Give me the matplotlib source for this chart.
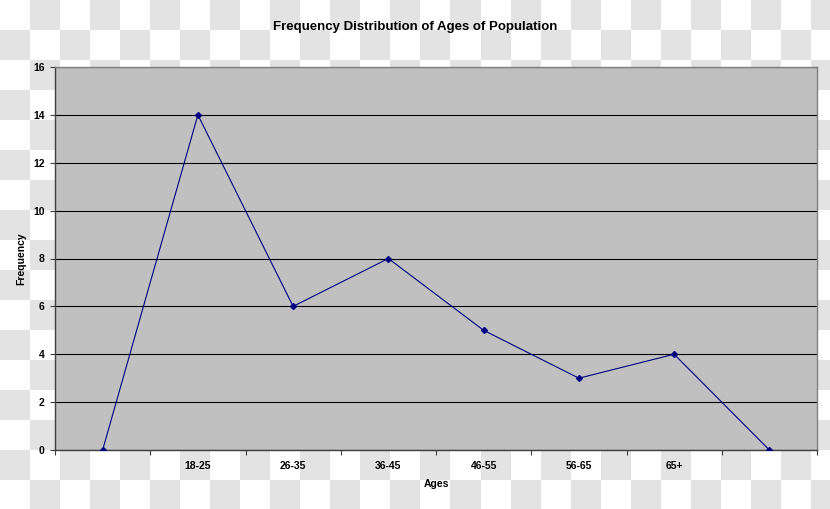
import numpy as np
import matplotlib
matplotlib.use("Agg")
import matplotlib.pyplot as plt

categories = ['', '18-25', '26-35', '36-45', '46-55', '56-65', '65+', '']
frequency = [0, 14, 6, 8, 5, 3, 4, 0]
y_ticks = [0, 2, 4, 6, 8, 10, 12, 14, 16]

W, H = 830, 509
fig = plt.figure(figsize=(W / 100, H / 100), dpi=100)

# checkerboard background
bg = fig.add_axes([0, 0, 1, 1])
sq = 30
nx, ny = int(np.ceil(W / sq)), int(np.ceil(H / sq))
pattern = (np.add.outer(np.arange(ny), np.arange(nx)) % 2).astype(float)
bg.imshow(pattern, cmap=matplotlib.colors.ListedColormap(['#ffffff', '#e3e3e3']),
          extent=[0, nx * sq, ny * sq, 0], interpolation='nearest', aspect='auto')
bg.set_xlim(0, W)
bg.set_ylim(H, 0)
bg.axis('off')

fam = ['Liberation Sans Narrow', 'Liberation Sans', 'DejaVu Sans']

left, right, top, bottom = 55, 817, 67, 450
ax = fig.add_axes([left / W, 1 - bottom / H, (right - left) / W, (bottom - top) / H])
ax.set_facecolor('#c0c0c0')

x = np.arange(1, len(categories) + 1)
ax.plot(x, frequency, color='#000080', lw=0.8, marker='D', ms=3, zorder=3)

ax.set_xlim(0.5, len(categories) + 0.5)
ax.set_ylim(0, 16)
ax.set_yticks(y_ticks)
ax.set_yticklabels([str(v) for v in y_ticks], fontfamily=fam, fontweight='bold', fontsize=7.5)
ax.grid(axis='y', color='black', lw=0.8)
ax.set_axisbelow(True)

ax.set_xticks(x)
ax.set_xticklabels(categories, fontfamily=fam, fontweight='bold', fontsize=7.5)
ax.tick_params(axis='x', which='major', length=0, pad=8)
ax.set_xticks(np.arange(0.5, len(categories) + 1, 1), minor=True)
ax.tick_params(axis='x', which='minor', length=3.5, width=0.8, color='#404040', direction='out')
ax.tick_params(axis='y', length=3.5, width=0.8, color='#404040', direction='out', pad=4)

for s in ['top', 'right']:
    ax.spines[s].set_color('#808080')
    ax.spines[s].set_linewidth(1.0)
for s in ['left', 'bottom']:
    ax.spines[s].set_color('#404040')
    ax.spines[s].set_linewidth(1.0)

ax.set_xlabel('Ages', fontfamily=fam, fontweight='bold', fontsize=7.5, labelpad=6)
ax.set_ylabel('Frequency', fontfamily=fam, fontweight='bold', fontsize=7.5, labelpad=5)

fig.text(0.5, 1 - 27 / H, 'Frequency Distribution of Ages of Population', ha='center', va='center',
         fontfamily=fam, fontweight='bold', fontsize=9.5)

fig.savefig('out.png', dpi=100)
